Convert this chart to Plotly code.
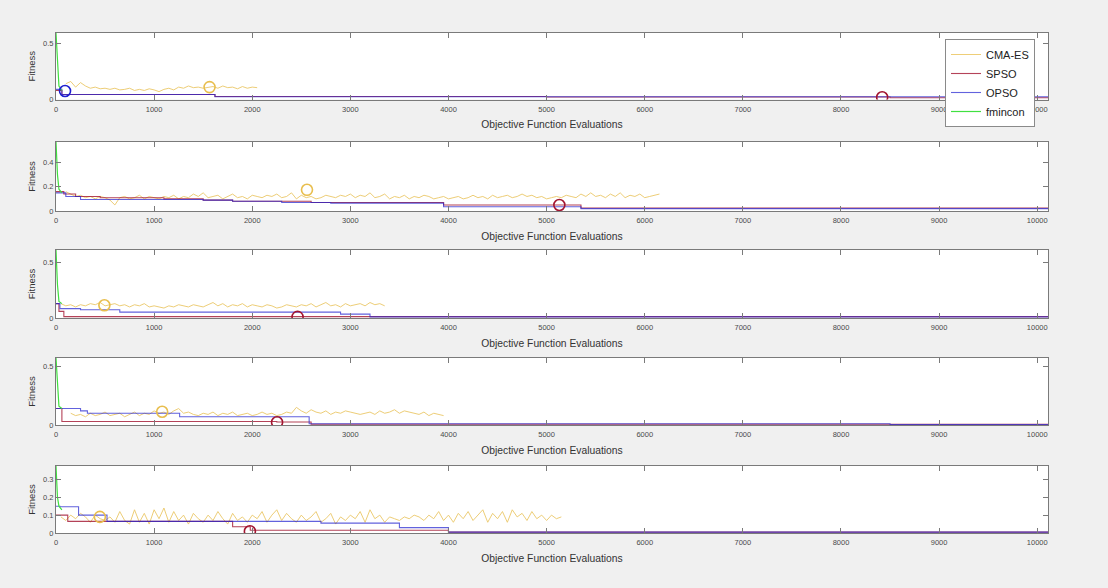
import plotly.graph_objects as go

# ---------------- data ----------------
series_names = ["CMA-ES", "SPSO", "OPSO", "fmincon"]
x_tick_vals = [0, 1000, 2000, 3000, 4000, 5000, 6000, 7000, 8000, 9000, 10000]
x_tick_text = ["0", "1000", "2000", "3000", "4000", "5000", "6000", "7000", "8000", "9000", "10000"]
x_max = 10110

# Panel 1
p1_ymax = 0.59
p1_yticks = [0, 0.5]
p1_cma_start, p1_cma_step = 100, 50
p1_cma_y = [0.14, 0.16, 0.11, 0.15, 0.12, 0.10, 0.11, 0.095, 0.10, 0.09,
            0.10, 0.085, 0.09, 0.10, 0.08, 0.09, 0.08, 0.095, 0.085, 0.07,
            0.09, 0.10, 0.085, 0.11, 0.10, 0.12, 0.105, 0.11, 0.10, 0.11,
            0.115, 0.10, 0.12, 0.105, 0.11, 0.095, 0.115, 0.10, 0.11, 0.105]
p1_spso_x = [0, 60, 1620, 5000, 8450, 8500, 10110]
p1_spso_y = [0.08, 0.045, 0.026, 0.022, 0.022, 0.015, 0.015]
p1_opso_x = [0, 60, 1620, 10110]
p1_opso_y = [0.09, 0.044, 0.024, 0.02]
p1_fmin_x = [0, 15, 30, 60]
p1_fmin_y = [0.59, 0.3, 0.12, 0.08]
p1_circles = [("OPSO", 92, 0.075), ("CMA-ES", 1565, 0.11), ("SPSO", 8420, 0.02)]

# Panel 2
p2_ymax = 0.57
p2_yticks = [0, 0.2, 0.4]
p2_cma_start, p2_cma_step = 100, 50
p2_cma_y = [0.16, 0.14, 0.12, 0.13, 0.11, 0.12, 0.10, 0.12, 0.11, 0.09,
            0.05, 0.11, 0.12, 0.10, 0.11, 0.13, 0.10, 0.12, 0.11, 0.10,
            0.12, 0.11, 0.13, 0.10, 0.12, 0.11, 0.14, 0.12, 0.15, 0.11,
            0.12, 0.13, 0.10, 0.12, 0.14, 0.11, 0.12, 0.10, 0.13, 0.12,
            0.11, 0.13, 0.12, 0.14, 0.11, 0.12, 0.15, 0.10, 0.13, 0.11,
            0.12, 0.10, 0.11, 0.13, 0.12, 0.11, 0.13, 0.12, 0.14, 0.11,
            0.13, 0.12, 0.15, 0.11, 0.12, 0.14, 0.10, 0.12, 0.11, 0.13,
            0.10, 0.12, 0.11, 0.13, 0.12, 0.10, 0.11, 0.12, 0.10, 0.11,
            0.12, 0.10, 0.11, 0.13, 0.11, 0.12, 0.10, 0.13, 0.11, 0.12,
            0.13, 0.11, 0.12, 0.14, 0.12, 0.13, 0.11, 0.12, 0.10, 0.11,
            0.12, 0.11, 0.13, 0.12, 0.11, 0.14, 0.12, 0.15, 0.12, 0.13,
            0.11, 0.14, 0.12, 0.15, 0.11, 0.13, 0.12, 0.14, 0.11, 0.12,
            0.13, 0.14]
p2_spso_x = [0, 80, 200, 450, 1100, 1500, 1800, 2600, 3950, 5350, 10110]
p2_spso_y = [0.16, 0.14, 0.12, 0.11, 0.10, 0.09, 0.08, 0.07, 0.05, 0.025, 0.025]
p2_opso_x = [0, 100, 250, 1500, 1800, 2300, 2800, 3950, 5350, 10110]
p2_opso_y = [0.15, 0.12, 0.095, 0.09, 0.08, 0.07, 0.065, 0.035, 0.02, 0.02]
p2_fmin_x = [0, 15, 30, 60]
p2_fmin_y = [0.57, 0.3, 0.18, 0.15]
p2_circles = [("CMA-ES", 2558, 0.175), ("SPSO", 5130, 0.05)]

# Panel 3
p3_ymax = 0.615
p3_yticks = [0, 0.5]
p3_cma_start, p3_cma_step = 50, 50
p3_cma_y = [0.13, 0.11, 0.12, 0.10, 0.12, 0.11, 0.13, 0.12, 0.14, 0.11,
            0.12, 0.13, 0.11, 0.12, 0.10, 0.12, 0.11, 0.13, 0.10, 0.11,
            0.10, 0.09, 0.11, 0.10, 0.12, 0.11, 0.10, 0.12, 0.11, 0.10,
            0.12, 0.14, 0.11, 0.13, 0.10, 0.12, 0.11, 0.13, 0.10, 0.12,
            0.11, 0.10, 0.12, 0.11, 0.09, 0.10, 0.12, 0.11, 0.10, 0.12,
            0.11, 0.13, 0.10, 0.12, 0.14, 0.11, 0.12, 0.10, 0.13, 0.11,
            0.12, 0.13, 0.11, 0.14, 0.12, 0.13, 0.11]
p3_spso_x = [0, 30, 80, 10110]
p3_spso_y = [0.13, 0.06, 0.012, 0.006]
p3_opso_x = [0, 40, 250, 650, 2900, 3200, 10110]
p3_opso_y = [0.13, 0.085, 0.075, 0.053, 0.035, 0.01, 0.01]
p3_fmin_x = [0, 15, 30, 60]
p3_fmin_y = [0.615, 0.3, 0.15, 0.13]
p3_circles = [("CMA-ES", 493, 0.115), ("SPSO", 2462, 0.01)]

# Panel 4
p4_ymax = 0.57
p4_yticks = [0, 0.5]
p4_cma_start, p4_cma_step = 150, 50
p4_cma_y = [0.10, 0.08, 0.09, 0.07, 0.10, 0.08, 0.09, 0.11, 0.08, 0.09,
            0.10, 0.07, 0.09, 0.11, 0.08, 0.10, 0.09, 0.12, 0.10, 0.11,
            0.09, 0.12, 0.14, 0.10, 0.11, 0.09, 0.08, 0.10, 0.09, 0.11,
            0.08, 0.10, 0.09, 0.11, 0.08, 0.09, 0.10, 0.08, 0.09, 0.11,
            0.09, 0.10, 0.08, 0.09, 0.11, 0.10, 0.15, 0.12, 0.10, 0.13,
            0.11, 0.10, 0.12, 0.09, 0.11, 0.10, 0.12, 0.11, 0.10, 0.09,
            0.10, 0.11, 0.09, 0.12, 0.10, 0.11, 0.13, 0.10, 0.12, 0.11,
            0.10, 0.09, 0.11, 0.08, 0.10, 0.09, 0.08]
p4_spso_x = [0, 60, 2250, 2600, 10110]
p4_spso_y = [0.14, 0.03, 0.025, 0.006, 0.006]
p4_opso_x = [0, 250, 320, 1260, 2580, 8500, 10110]
p4_opso_y = [0.14, 0.12, 0.10, 0.07, 0.011, 0.004, 0.004]
p4_fmin_x = [0, 15, 30, 60]
p4_fmin_y = [0.57, 0.3, 0.16, 0.14]
p4_circles = [("CMA-ES", 1082, 0.113), ("SPSO", 2253, 0.023)]

# Panel 5
p5_ymax = 0.375
p5_yticks = [0, 0.1, 0.2, 0.3]
p5_cma_start, p5_cma_step = 50, 50
p5_cma_y = [0.09, 0.07, 0.10, 0.08, 0.11, 0.09, 0.06, 0.10, 0.08, 0.07,
            0.09, 0.06, 0.12, 0.07, 0.05, 0.13, 0.06, 0.11, 0.05, 0.13,
            0.08, 0.14, 0.06, 0.12, 0.07, 0.10, 0.05, 0.11, 0.08, 0.06,
            0.10, 0.07, 0.12, 0.08, 0.05, 0.11, 0.07, 0.09, 0.06, 0.10,
            0.08, 0.12, 0.06, 0.10, 0.13, 0.07, 0.11, 0.08, 0.06, 0.10,
            0.07, 0.09, 0.12, 0.06, 0.08, 0.11, 0.05, 0.09, 0.07, 0.10,
            0.08, 0.12, 0.06, 0.13, 0.08, 0.10, 0.06, 0.09, 0.08, 0.07,
            0.09, 0.08, 0.10, 0.09, 0.07, 0.10, 0.08, 0.12, 0.07, 0.10,
            0.06, 0.11, 0.08, 0.12, 0.07, 0.10, 0.13, 0.06, 0.11, 0.08,
            0.12, 0.06, 0.13, 0.09, 0.11, 0.07, 0.12, 0.08, 0.10, 0.07,
            0.10, 0.08, 0.09]
p5_spso_x = [0, 120, 1800, 1980, 4000, 10110]
p5_spso_y = [0.10, 0.065, 0.035, 0.015, 0.005, 0.005]
p5_opso_x = [0, 40, 230, 520, 2700, 3500, 4000, 10110]
p5_opso_y = [0.15, 0.147, 0.10, 0.065, 0.055, 0.03, 0.005, 0.005]
p5_fmin_x = [0, 15, 30, 60]
p5_fmin_y = [0.375, 0.2, 0.15, 0.13]
p5_circles = [("CMA-ES", 447, 0.09), ("SPSO", 1976, 0.01)]

# ---------------- styling ----------------
W, H = 1108, 588
colors = {"CMA-ES": "#E8BE4E", "SPSO": "#A2142F", "OPSO": "#2020D0", "fmincon": "#40E040"}
font_family = "Liberation Sans, Arial, sans-serif"
axis_color = "#7a7a7a"
panel_px = [(33, 99.5), (142, 211), (250, 318), (358, 425), (466, 533)]
x_left_px, x_right_px = 56, 1048

panels = [
    dict(ymax=p1_ymax, yticks=p1_yticks, cs=p1_cma_start, cst=p1_cma_step, cy=p1_cma_y,
         sx=p1_spso_x, sy=p1_spso_y, ox=p1_opso_x, oy=p1_opso_y, fx=p1_fmin_x, fy=p1_fmin_y, circ=p1_circles),
    dict(ymax=p2_ymax, yticks=p2_yticks, cs=p2_cma_start, cst=p2_cma_step, cy=p2_cma_y,
         sx=p2_spso_x, sy=p2_spso_y, ox=p2_opso_x, oy=p2_opso_y, fx=p2_fmin_x, fy=p2_fmin_y, circ=p2_circles),
    dict(ymax=p3_ymax, yticks=p3_yticks, cs=p3_cma_start, cst=p3_cma_step, cy=p3_cma_y,
         sx=p3_spso_x, sy=p3_spso_y, ox=p3_opso_x, oy=p3_opso_y, fx=p3_fmin_x, fy=p3_fmin_y, circ=p3_circles),
    dict(ymax=p4_ymax, yticks=p4_yticks, cs=p4_cma_start, cst=p4_cma_step, cy=p4_cma_y,
         sx=p4_spso_x, sy=p4_spso_y, ox=p4_opso_x, oy=p4_opso_y, fx=p4_fmin_x, fy=p4_fmin_y, circ=p4_circles),
    dict(ymax=p5_ymax, yticks=p5_yticks, cs=p5_cma_start, cst=p5_cma_step, cy=p5_cma_y,
         sx=p5_spso_x, sy=p5_spso_y, ox=p5_opso_x, oy=p5_opso_y, fx=p5_fmin_x, fy=p5_fmin_y, circ=p5_circles),
]

fig = go.Figure()
layout = {}
for i, p in enumerate(panels):
    n = i + 1
    xk = "x" if n == 1 else f"x{n}"
    yk = "y" if n == 1 else f"y{n}"
    first = (n == 1)
    cma_x = [p["cs"] + k * p["cst"] for k in range(len(p["cy"]))]
    fig.add_trace(go.Scatter(x=cma_x, y=p["cy"], mode="lines", name="CMA-ES",
                             line=dict(color=colors["CMA-ES"], width=0.9), opacity=0.85,
                             showlegend=first, legendrank=1, xaxis=xk, yaxis=yk))
    fig.add_trace(go.Scatter(x=p["sx"], y=p["sy"], mode="lines", name="SPSO",
                             line=dict(color=colors["SPSO"], width=1.1, shape="hv"), opacity=0.8,
                             showlegend=first, legendrank=2, xaxis=xk, yaxis=yk))
    fig.add_trace(go.Scatter(x=p["ox"], y=p["oy"], mode="lines", name="OPSO",
                             line=dict(color=colors["OPSO"], width=1.1, shape="hv"), opacity=0.7,
                             showlegend=first, legendrank=3, xaxis=xk, yaxis=yk))
    fig.add_trace(go.Scatter(x=p["fx"], y=p["fy"], mode="lines", name="fmincon",
                             line=dict(color=colors["fmincon"], width=1.2),
                             showlegend=first, legendrank=4, xaxis=xk, yaxis=yk))
    for (sname, cx, cy) in p["circ"]:
        fig.add_trace(go.Scatter(x=[cx], y=[cy], mode="markers", showlegend=False,
                                 marker=dict(symbol="circle-open", size=11,
                                             line=dict(width=1.6, color=colors[sname]),
                                             color=colors[sname]),
                                 xaxis=xk, yaxis=yk))
    top, bot = panel_px[i]
    layout["xaxis" if first else f"xaxis{n}"] = dict(
        domain=[x_left_px / W, x_right_px / W], anchor=yk, range=[0, x_max],
        tickvals=x_tick_vals, ticktext=x_tick_text, ticks="inside", ticklen=5, tickcolor=axis_color,
        showline=True, linecolor=axis_color, linewidth=1, mirror="ticks",
        showgrid=False, zeroline=False, automargin=False, ticklabelstandoff=2,
        tickfont=dict(size=7.5, color="#4a4a4a", family=font_family),
        title=dict(text="Objective Function Evaluations", standoff=8,
                   font=dict(size=10.3, color="#333333", family=font_family)))
    layout["yaxis" if first else f"yaxis{n}"] = dict(
        domain=[1 - bot / H, 1 - top / H], anchor=xk, range=[0, p["ymax"]],
        tickvals=p["yticks"], ticks="inside", ticklen=5, tickcolor=axis_color,
        showline=True, linecolor=axis_color, linewidth=1, mirror="ticks",
        showgrid=False, zeroline=False, automargin=False,
        tickfont=dict(size=7.5, color="#4a4a4a", family=font_family),
        title=dict(text="Fitness", standoff=5,
                   font=dict(size=9.5, color="#333333", family=font_family)))

fig.update_layout(
    width=W, height=H,
    margin=dict(l=0, r=0, t=0, b=0, autoexpand=False),
    paper_bgcolor="#f0f0f0", plot_bgcolor="#ffffff",
    font=dict(family=font_family),
    legend=dict(x=945 / W, y=1 - 39 / H, xanchor="left", yanchor="top",
                bgcolor="#ffffff", bordercolor="#8a8a8a", borderwidth=1,
                itemwidth=30, font=dict(size=11, color="#222222", family=font_family),
                tracegroupgap=0),
    **layout,
)

fig.write_html("out.html", config={"displayModeBar": False},
               post_script="document.body.style.margin='0';document.body.style.overflow='hidden';"
                           "document.body.style.background='#f0f0f0';")
